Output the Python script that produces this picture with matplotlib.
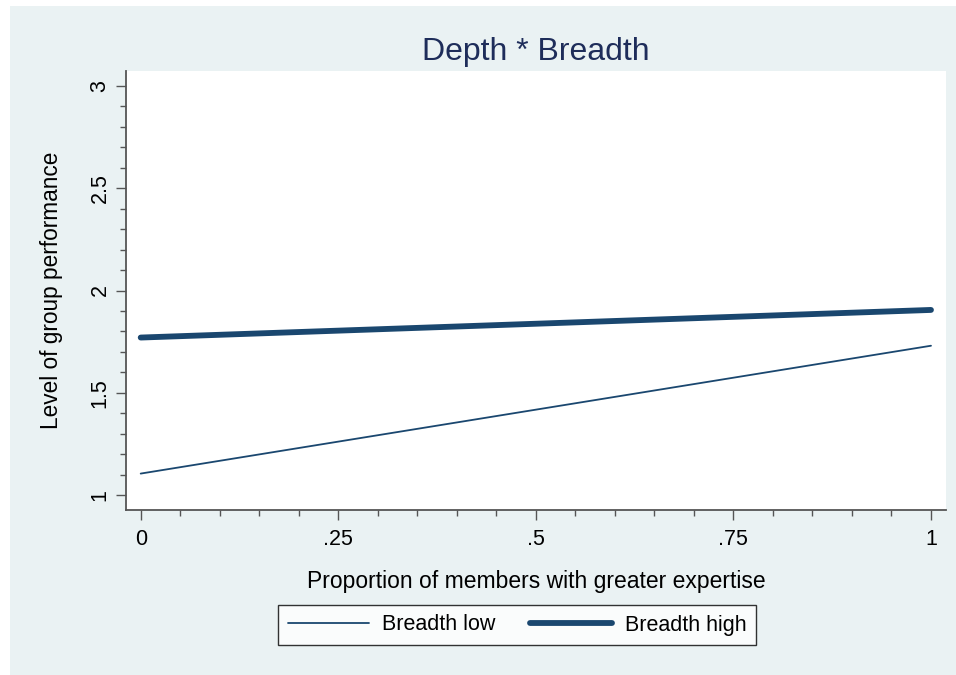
import numpy as np
import matplotlib.pyplot as plt
from matplotlib.patches import Rectangle
from matplotlib.ticker import MultipleLocator

plt.rcParams['font.family'] = ['Liberation Sans', 'DejaVu Sans']

# fitted lines at the two ends of the x range
x_ends = [0, 1]
low_vals = [1.105, 1.73]
high_vals = [1.77, 1.905]
labels = ['Breadth low', 'Breadth high']
xticks = [0, 0.25, 0.5, 0.75, 1]
xtick_labels = ['0', '.25', '.5', '.75', '1']
yticks = [1, 1.5, 2, 2.5, 3]
ytick_labels = ['1', '1.5', '2', '2.5', '3']

navy = '#1a476f'
bg = '#eaf2f3'
axis_col = '#555555'

fig = plt.figure(figsize=(9.56, 6.75), dpi=100)
fig.patch.set_facecolor('white')
fig.add_artist(Rectangle((10 / 956, 0), 1, 1 - 6 / 675, transform=fig.transFigure,
                         facecolor=bg, edgecolor='none', zorder=0))

ax = fig.add_axes([126 / 956, (675 - 510) / 675, 820 / 956, 439 / 675])
ax.set_facecolor('white')
ax.plot(x_ends, low_vals, color=navy, lw=1.3, label=labels[0], solid_capstyle='round')
ax.plot(x_ends, high_vals, color=navy, lw=4.2, label=labels[1], solid_capstyle='round')

ax.set_xlim(-0.0186, 1.019)
ax.set_ylim(0.927, 3.073)
ax.set_xticks(xticks, xtick_labels)
ax.set_yticks(yticks, ytick_labels)
ax.xaxis.set_minor_locator(MultipleLocator(0.05))
ax.yaxis.set_minor_locator(MultipleLocator(0.1))
ax.tick_params(axis='both', which='major', length=7, width=1, color=axis_col,
               labelsize=15.5)
ax.tick_params(axis='x', which='major', pad=7)
ax.tick_params(axis='y', which='major', pad=4)
ax.tick_params(axis='both', which='minor', length=4, width=1, color=axis_col)
ax.tick_params(axis='y', labelrotation=90)
for lab in ax.get_yticklabels():
    lab.set_va('center')

for s in ['top', 'right']:
    ax.spines[s].set_visible(False)
for s in ['left', 'bottom']:
    ax.spines[s].set_color(axis_col)
    ax.spines[s].set_linewidth(1.3)

ax.set_xlabel('Proportion of members with greater expertise', fontsize=16.5, labelpad=14)
ax.set_ylabel('Level of group performance', fontsize=16.3, labelpad=19)
ax.set_title('Depth * Breadth', fontsize=23, color='#1e2d5a', pad=8)

leg = fig.legend(loc='center', bbox_to_anchor=(517 / 956, 1 - 625 / 675), ncol=2,
                 fontsize=15.5, frameon=True, fancybox=False, handlelength=3.8,
                 columnspacing=1.6, borderpad=0.45, handletextpad=0.6)
leg.get_frame().set_edgecolor('black')
leg.get_frame().set_linewidth(1)

fig.savefig('out.png', dpi=100, facecolor=fig.get_facecolor())
